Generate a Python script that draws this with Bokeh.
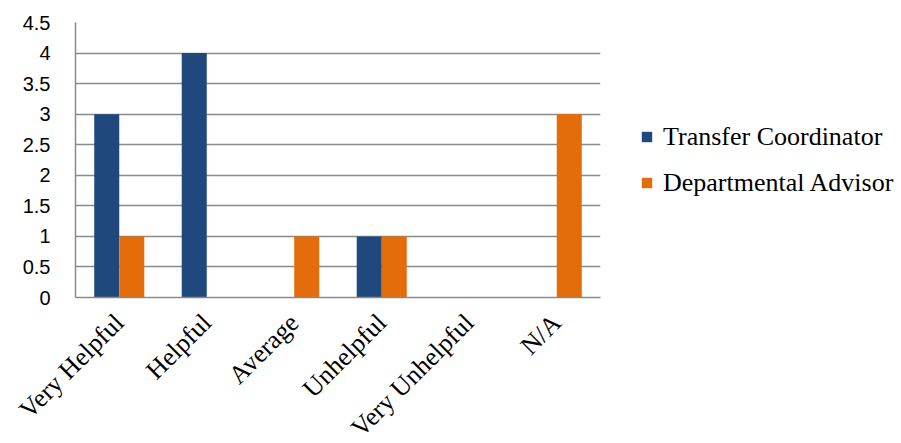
import math
from bokeh.plotting import figure
from bokeh.models import (ColumnDataSource, FactorRange, Range1d, FixedTicker,
                          CustomJSTickFormatter, Legend, LegendItem)
from bokeh.transform import dodge
from bokeh.embed import file_html
from bokeh.resources import INLINE

categories = ["Very Helpful", "Helpful", "Average", "Unhelpful", "Very Unhelpful", "N/A"]
transfer_coordinator = [3, 4, 0, 1, 0, 0]
departmental_advisor = [1, 0, 1, 1, 0, 3]
y_ticks = [0, 0.5, 1, 1.5, 2, 2.5, 3, 3.5, 4, 4.5]

src = ColumnDataSource(dict(cat=categories, tc=transfer_coordinator, da=departmental_advisor))

p = figure(frame_width=525, frame_height=275, x_range=FactorRange(*categories), y_range=Range1d(0, 4.5),
           output_backend="svg", toolbar_location=None,
           min_border_left=75, min_border_right=0, min_border_top=22, min_border_bottom=146)
p.outline_line_color = None

bw = 0.286
r1 = p.vbar(x=dodge("cat", -bw / 2, range=p.x_range), top="tc", width=bw, source=src,
            fill_color="#1F497D", line_color=None)
r2 = p.vbar(x=dodge("cat", bw / 2, range=p.x_range), top="da", width=bw, source=src,
            fill_color="#E46C0A", line_color=None)

p.xgrid.grid_line_color = None
p.ygrid.grid_line_color = "#8a8a8a"
p.ygrid.grid_line_width = 1.5
p.yaxis.ticker = FixedTicker(ticks=y_ticks)
p.yaxis.formatter = CustomJSTickFormatter(code="return tick.toString();")
p.yaxis.axis_line_color = "#8a8a8a"
p.yaxis.axis_line_width = 1.5
p.yaxis.major_tick_line_color = None
p.yaxis.minor_tick_line_color = None
p.yaxis.major_label_standoff = 19
p.yaxis.major_label_text_font = "Liberation Sans"
p.yaxis.major_label_text_font_size = "20px"
p.yaxis.major_label_text_color = "#000000"

p.xaxis.axis_line_color = "#8a8a8a"
p.xaxis.axis_line_width = 1.5
p.xaxis.major_tick_line_color = None
p.xaxis.minor_tick_line_color = None
p.xaxis.major_label_orientation = math.pi / 4
p.xaxis.major_label_standoff = 15
p.xaxis.major_label_text_font = "Liberation Serif"
p.xaxis.major_label_text_font_size = "26px"
p.xaxis.major_label_text_color = "#000000"

legend = Legend(items=[LegendItem(label="Transfer Coordinator", renderers=[r1]),
                       LegendItem(label="Departmental Advisor", renderers=[r2])],
                location="center_left", margin=40, padding=0, spacing=16,
                glyph_width=13, glyph_height=13, label_standoff=10,
                label_text_font="Liberation Serif", label_text_font_size="26px",
                label_text_color="#000000",
                border_line_color=None, background_fill_alpha=0)
p.add_layout(legend, "right")

open("out.html", "w").write(file_html(p, INLINE))
